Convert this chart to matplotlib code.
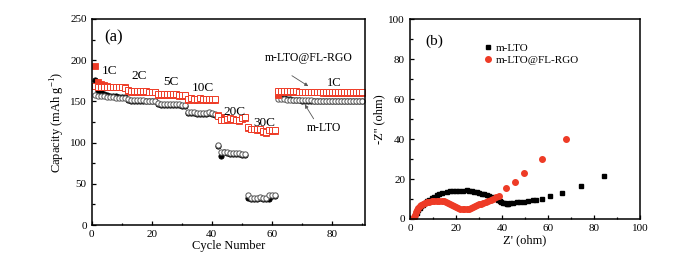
import numpy as np
import matplotlib
matplotlib.use("Agg")
import matplotlib.pyplot as plt

plt.rcParams["font.family"] = ["Liberation Serif", "DejaVu Serif"]
plt.rcParams["mathtext.fontset"] = "custom"
plt.rcParams["mathtext.rm"] = "Liberation Serif"

# ---- (a) rate capability ----
cycles = np.arange(1, 91)

lto_open = ([158, 157, 156, 156, 155, 155, 155, 154, 154, 154, 154]
            + [153, 152, 152, 152, 152, 152, 151, 151, 151, 151]
            + [148, 147, 147, 147, 147, 147, 147, 147, 146, 146]
            + [137, 137, 137, 136, 136, 136, 136, 137, 136, 135]
            + [97, 88, 89, 88, 87, 87, 87, 87, 86, 86]
            + [36, 33, 33, 33, 34, 33, 33, 36, 37, 37]
            + [153, 153, 153, 152, 152, 152, 152, 152, 152, 152,
               152, 152, 151, 151, 151, 151, 151, 151, 151, 151,
               151, 151, 151, 151, 151, 151, 151, 151, 151])
lto_fill = ([176, 163, 161, 159, 158, 157, 156, 156, 155, 155, 155]
            + [152, 151, 151, 151, 151, 151, 150, 150, 150, 150]
            + [147, 146, 146, 146, 146, 146, 146, 146, 145, 145]
            + [136, 136, 136, 135, 135, 135, 135, 136, 135, 134]
            + [96, 84, 88, 87, 86, 86, 86, 86, 85, 85]
            + [33, 32, 32, 32, 33, 32, 31, 31, 35, 35]
            + [157, 155, 154, 153, 153, 152, 152, 152, 151, 151,
               151, 151, 151, 151, 151, 150, 150, 150, 150, 150,
               150, 150, 150, 150, 150, 150, 150, 150, 150])
rgo_open = ([169, 168, 168, 167, 167, 167, 167, 167, 167, 167, 166]
            + [164, 163, 163, 163, 163, 163, 163, 162, 162, 162]
            + [159, 159, 159, 159, 159, 159, 159, 158, 158, 158]
            + [153, 154, 153, 153, 154, 153, 153, 153, 153, 153]
            + [132, 128, 128, 129, 130, 129, 128, 127, 130, 131]
            + [119, 117, 117, 116, 116, 114, 113, 115, 115, 115]
            + [163, 163, 163, 163, 163, 163, 163, 162, 162, 162,
               162, 162, 162, 162, 162, 161, 161, 161, 161, 161,
               161, 161, 161, 161, 161, 161, 161, 161, 161])
rgo_fill = ([193, 174, 171, 170, 169, 168, 168, 168, 167, 167, 167]
            + [163, 162, 162, 162, 162, 162, 162, 161, 161, 161]
            + [158, 158, 158, 158, 158, 158, 158, 157, 157, 157]
            + [152, 153, 152, 152, 153, 152, 152, 152, 152, 152]
            + [133, 131, 127, 128, 129, 128, 127, 126, 129, 130]
            + [118, 116, 116, 115, 115, 113, 112, 114, 114, 114]
            + [158, 161, 161, 161, 161, 161, 161, 161, 161, 161,
               161, 161, 161, 161, 161, 160, 160, 160, 160, 160,
               160, 160, 160, 160, 160, 160, 160, 160, 160])

rate_labels = ["1C", "2C", "5C", "10C", "20C", "30C"]
rate_x = [3.3, 13.3, 23.8, 33.3, 43.8, 53.8]
rate_y = [180, 173, 166, 159, 130, 116]

# ---- (b) Nyquist ----
z_re_lto = [1.7, 2.3, 2.9, 3.6, 4.3, 5.0, 5.8, 6.6, 7.5, 8.4, 9.4, 10.5,
            11.6, 12.7, 13.8, 15.9, 17.3, 18.8, 20.0, 21.4, 23.0, 24.6,
            25.7, 26.8, 27.9, 29.0, 30.1, 31.2, 32.2, 33.3, 34.4, 35.5,
            36.6, 37.7, 38.4, 39.0, 39.8, 40.6, 41.3, 42.0, 42.8, 43.5,
            44.9, 46.4, 47.8, 49.6, 51.4, 53.3, 55.0, 57.5, 60.9, 65.9,
            74.3, 84.3]
z_im_lto = [0.0, 1.5, 3.0, 4.3, 5.5, 6.4, 7.2, 8.0, 8.8, 9.7, 10.5, 11.2,
            11.8, 12.4, 13.0, 13.7, 13.9, 14.0, 14.0, 14.0, 14.2, 14.3,
            14.1, 13.8, 13.6, 13.3, 13.0, 12.7, 12.4, 12.0, 11.6, 11.2,
            10.6, 10.0, 9.4, 8.8, 8.4, 8.0, 7.8, 7.7, 7.7, 7.8,
            8.2, 8.3, 8.5, 8.7, 9.0, 9.3, 9.7, 10.2, 11.7, 13.0,
            16.3, 21.3]
z_re_rgo = [1.4, 1.8, 2.2, 2.7, 3.2, 3.7, 4.3, 5.0, 5.8, 6.6, 7.5, 8.4,
            9.4, 10.5, 11.6, 12.7, 13.8, 14.7, 15.7, 16.5, 17.4, 18.2,
            19.1, 20.0, 21.0, 21.9, 22.9, 23.7, 24.6, 25.5, 26.4, 27.3,
            28.3, 29.2, 30.1, 31.0, 31.9, 33.0, 34.0, 35.1, 36.2, 37.4,
            38.6, 41.7, 45.7, 49.7, 57.5, 67.7]
z_im_rgo = [0.0, 1.0, 2.0, 3.3, 4.5, 5.4, 6.3, 6.9, 7.5, 7.9, 8.3, 8.6,
            8.8, 8.9, 9.0, 9.0, 9.0, 8.8, 8.5, 8.1, 7.7, 7.2,
            6.7, 6.1, 5.5, 5.2, 5.0, 4.9, 5.0, 5.1, 5.3, 5.8,
            6.3, 6.8, 7.3, 7.7, 8.0, 8.4, 8.8, 9.4, 10.0, 10.8,
            11.7, 15.5, 18.3, 23.0, 30.0, 40.0]

red = "#ee3b26"

fig = plt.figure(figsize=(6.81, 2.57), dpi=100)
ax1 = fig.add_axes([0.1344, 0.1245, 0.4016, 0.8016])
ax2 = fig.add_axes([0.602, 0.1479, 0.3377, 0.778])

ms = 3.8
ax1.plot(cycles, lto_fill, "o", color="black", ms=ms, mew=0.6)
ax1.plot(cycles, lto_open, "o", mfc="white", mec="#555555", ms=ms, mew=0.7)
ax1.plot(cycles, rgo_fill, "s", color=red, ms=ms, mew=0.6)
ax1.plot(cycles, rgo_open, "s", mfc="white", mec=red, ms=ms, mew=0.7)

ax1.set_xlim(0, 91)
ax1.set_ylim(0, 250)
ax1.set_xticks([0, 20, 40, 60, 80])
ax1.set_xticks(np.arange(0, 91, 10), minor=True)
ax1.set_yticks([0, 50, 100, 150, 200, 250])
ax1.set_yticks(np.arange(0, 251, 25), minor=True)
ax1.set_xlabel("Cycle Number", fontsize=9, labelpad=1)
ax1.set_ylabel(r"Capacity (mAh g$^{-1}$)", fontsize=9, labelpad=2)

ax1.text(4.3, 228, "(a)", fontsize=12, va="center")
for lab, x, y in zip(rate_labels, rate_x, rate_y):
    ax1.text(x, y, lab, fontsize=9.5, va="bottom")
ax1.text(57.5, 203, "m-LTO@FL-RGO", fontsize=8.5, va="center")
ax1.text(78.3, 172, "1C", fontsize=9, va="center")
ax1.text(71.7, 118, "m-LTO", fontsize=8.5, va="center")
ax1.annotate("", xy=(72.9, 166.7), xytext=(65.9, 183),
             arrowprops=dict(arrowstyle="-|>", color="#555555", lw=0.6,
                             mutation_scale=5))
ax1.annotate("", xy=(70.5, 149), xytext=(74.4, 126),
             arrowprops=dict(arrowstyle="-|>", color="#555555", lw=0.6,
                             mutation_scale=5))

ax2.plot(z_re_lto, z_im_lto, "s", color="black", ms=3.2, label="m-LTO")
ax2.plot(z_re_rgo, z_im_rgo, "o", color=red, ms=4, label="m-LTO@FL-RGO")
ax2.set_xlim(0, 100)
ax2.set_ylim(0, 100)
ax2.set_xticks(np.arange(0, 101, 20))
ax2.set_xticks(np.arange(0, 101, 10), minor=True)
ax2.set_yticks(np.arange(0, 101, 20))
ax2.set_yticks(np.arange(0, 101, 10), minor=True)
ax2.set_xlabel("Z' (ohm)", fontsize=9, labelpad=1)
ax2.set_ylabel("-Z'' (ohm)", fontsize=9, labelpad=2)
ax2.text(6.8, 89, "(b)", fontsize=11, va="center")
ax2.legend(loc="upper left", bbox_to_anchor=(0.265, 0.93), frameon=False,
           fontsize=8, handletextpad=0.1, labelspacing=0.2,
           handlelength=1.2)

for ax in (ax1, ax2):
    for s in ax.spines.values():
        s.set_linewidth(1.1)
    ax.tick_params(which="both", direction="in", labelsize=8, width=0.9)
    ax.tick_params(which="major", length=3)
    ax.tick_params(which="minor", length=1.8)

fig.savefig("out.png", dpi=100)
